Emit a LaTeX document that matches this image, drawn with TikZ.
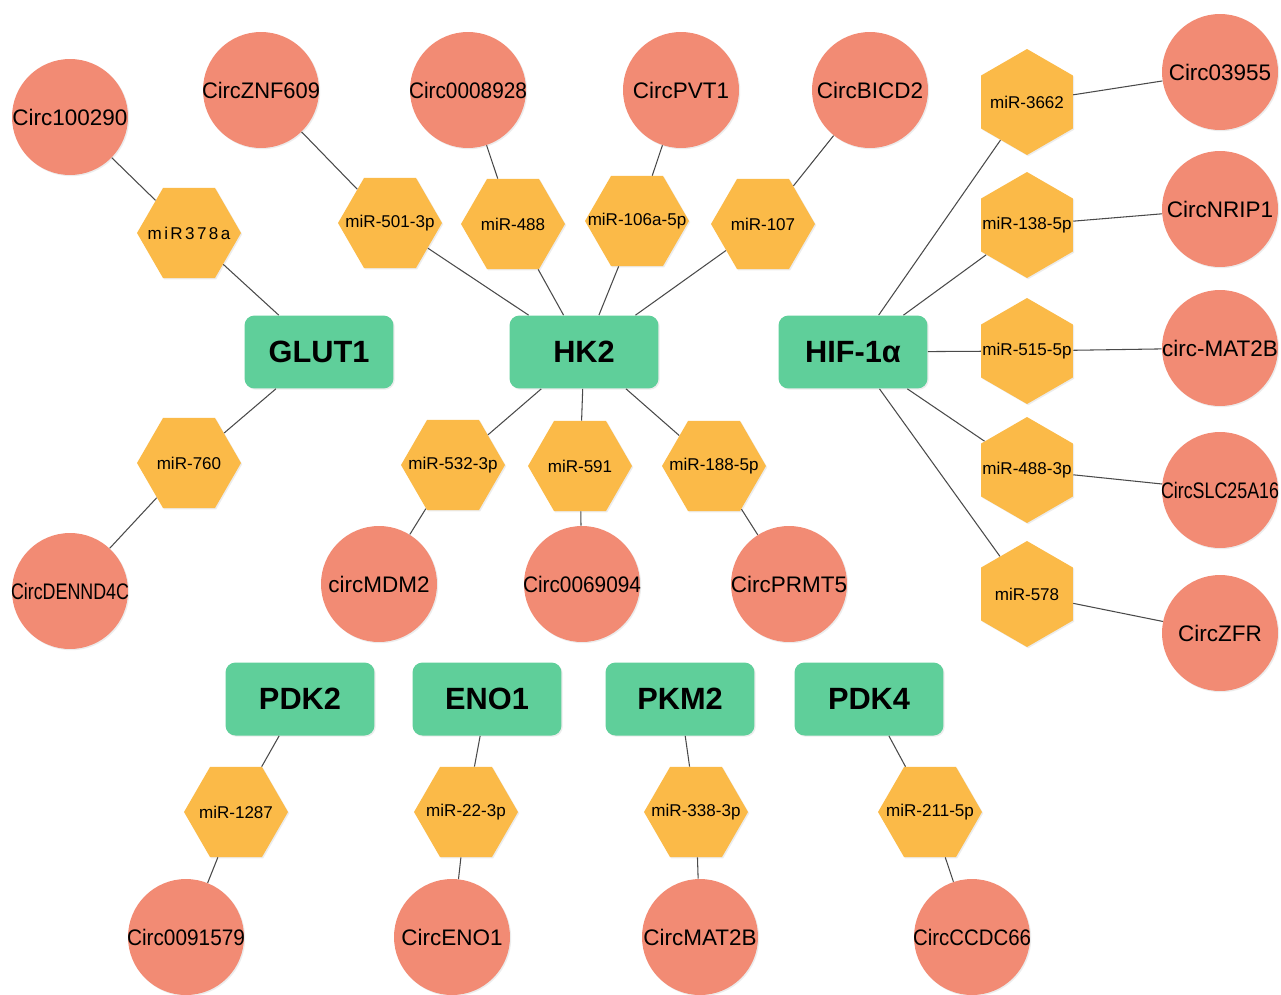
\documentclass[tikz,border=0pt]{standalone}
\usepackage{fontspec}
\usepackage{graphicx}
\setmainfont{Liberation Sans}
\usetikzlibrary{shapes.geometric,shadows}
\definecolor{circfill}{HTML}{F28B74}
\definecolor{hexfill}{HTML}{FBBA48}
\definecolor{genefill}{HTML}{5FCF9A}
\definecolor{linkgray}{HTML}{4A4A4A}
\newsavebox\lblbox
\newlength\maxlw \setlength\maxlw{2.36cm}
\newcommand\fitlabel[1]{\sbox\lblbox{#1}\ifdim\wd\lblbox>\maxlw\resizebox{\maxlw}{\height}{\usebox\lblbox}\else\usebox\lblbox\fi}
\newcommand\cl[1]{\makebox[0pt]{\fitlabel{#1}}}
\newcommand\hl[1]{\makebox[0pt]{#1}}
\tikzset{
  softshadow/.style={drop shadow={opacity=0.15, shadow xshift=0.7pt, shadow yshift=-0.7pt}},
  circ/.style={circle, fill=circfill, minimum size=2.32cm, inner sep=0pt, softshadow,
    font=\fontsize{12.8}{15}\selectfont},
  hexa/.style={regular polygon, regular polygon sides=6, fill=hexfill, minimum size=2.08cm,
    inner sep=0pt, softshadow, font=\fontsize{9.7}{11}\selectfont},
  hexv/.style={hexa, shape border rotate=90, minimum size=2.12cm},
  gene/.style={rectangle, rounded corners=0.2cm, fill=genefill, minimum width=2.98cm,
    minimum height=1.46cm, inner sep=0pt, softshadow, font=\bfseries\fontsize{17.5}{20}\selectfont},
  link/.style={draw=linkgray, line width=0.6pt}
}
\begin{document}
\begin{tikzpicture}[x=0.02cm, y=-0.02cm]
\useasboundingbox[fill=white] (0,0) rectangle (1281,994);
% genes
\node[gene] (glut1) at (319,352) {GLUT1};
\node[gene] (hk2) at (584,352) {HK2};
\node[gene] (hif) at (853,352) {HIF-1α};
\node[gene] (pdk2) at (300,699) {PDK2};
\node[gene] (eno1) at (487,699) {ENO1};
\node[gene] (pkm2) at (680,699) {PKM2};
\node[gene] (pdk4) at (869,699) {PDK4};
% miRNAs
\node[hexa] (m378) at (189,233) {\hl{\addfontfeatures{LetterSpace=14}miR378a}};
\node[hexa] (m760) at (189,463) {\hl{miR-760}};
\node[hexa] (m501) at (390,223) {\hl{miR-501-3p}};
\node[hexa] (m488) at (513,224) {\hl{miR-488}};
\node[hexa] (m106) at (637,221) {\hl{miR-106a-5p}};
\node[hexa] (m107) at (763,224) {\hl{miR-107}};
\node[hexa] (m532) at (453,465) {\hl{miR-532-3p}};
\node[hexa] (m591) at (580,466) {\hl{miR-591}};
\node[hexa] (m188) at (714,466) {\hl{miR-188-5p}};
\node[hexv] (m3662) at (1027,102) {\hl{miR-3662}};
\node[hexv] (m138) at (1027,225) {\hl{miR-138-5p}};
\node[hexv] (m515) at (1027,351) {\hl{miR-515-5p}};
\node[hexv] (m4883) at (1027,470) {\hl{miR-488-3p}};
\node[hexv] (m578) at (1027,594) {\hl{miR-578}};
\node[hexa] (m1287) at (236,812) {\hl{miR-1287}};
\node[hexa] (m22) at (466,812) {\hl{miR-22-3p}};
\node[hexa] (m338) at (696,812) {\hl{miR-338-3p}};
\node[hexa] (m211) at (930,812) {\hl{miR-211-5p}};
% circRNAs
\node[circ] (c100290) at (70,117) {\cl{Circ100290}};
\node[circ] (cznf) at (261,90) {\cl{CircZNF609}};
\node[circ] (c8928) at (468,90) {\cl{Circ0008928}};
\node[circ] (cpvt) at (681,90) {\cl{CircPVT1}};
\node[circ] (cbicd) at (870,90) {\cl{CircBICD2}};
\node[circ] (c3955) at (1220,72) {\cl{Circ03955}};
\node[circ] (cnrip) at (1220,209) {\cl{CircNRIP1}};
\node[circ] (cmat2b) at (1220,348) {\cl{circ-MAT2B}};
\node[circ] (cslc) at (1220,490) {\cl{CircSLC25A16}};
\node[circ] (czfr) at (1220,633) {\cl{CircZFR}};
\node[circ] (cdennd) at (70,591) {\cl{CircDENND4C}};
\node[circ] (cmdm2) at (379,584) {\cl{circMDM2}};
\node[circ] (c69094) at (582,584) {\cl{Circ0069094}};
\node[circ] (cprmt) at (789,584) {\cl{CircPRMT5}};
\node[circ] (c91579) at (186,937) {\cl{Circ0091579}};
\node[circ] (ceno) at (452,937) {\cl{CircENO1}};
\node[circ] (cmatb) at (700,937) {\cl{CircMAT2B}};
\node[circ] (cccdc) at (972,937) {\cl{CircCCDC66}};
% links
\draw[link] (glut1) -- (m378) -- (c100290);
\draw[link] (glut1) -- (m760) -- (cdennd);
\draw[link] (hk2) -- (m501) -- (cznf);
\draw[link] (hk2) -- (m488) -- (c8928);
\draw[link] (hk2) -- (m106) -- (cpvt);
\draw[link] (hk2) -- (m107) -- (cbicd);
\draw[link] (hk2) -- (m532) -- (cmdm2);
\draw[link] (hk2) -- (m591) -- (c69094);
\draw[link] (hk2) -- (m188) -- (cprmt);
\draw[link] (hif) -- (m3662) -- (c3955);
\draw[link] (hif) -- (m138) -- (cnrip);
\draw[link] (hif) -- (m515) -- (cmat2b);
\draw[link] (hif) -- (m4883) -- (cslc);
\draw[link] (hif) -- (m578) -- (czfr);
\draw[link] (pdk2) -- (m1287) -- (c91579);
\draw[link] (eno1) -- (m22) -- (ceno);
\draw[link] (pkm2) -- (m338) -- (cmatb);
\draw[link] (pdk4) -- (m211) -- (cccdc);
\end{tikzpicture}
\end{document}
